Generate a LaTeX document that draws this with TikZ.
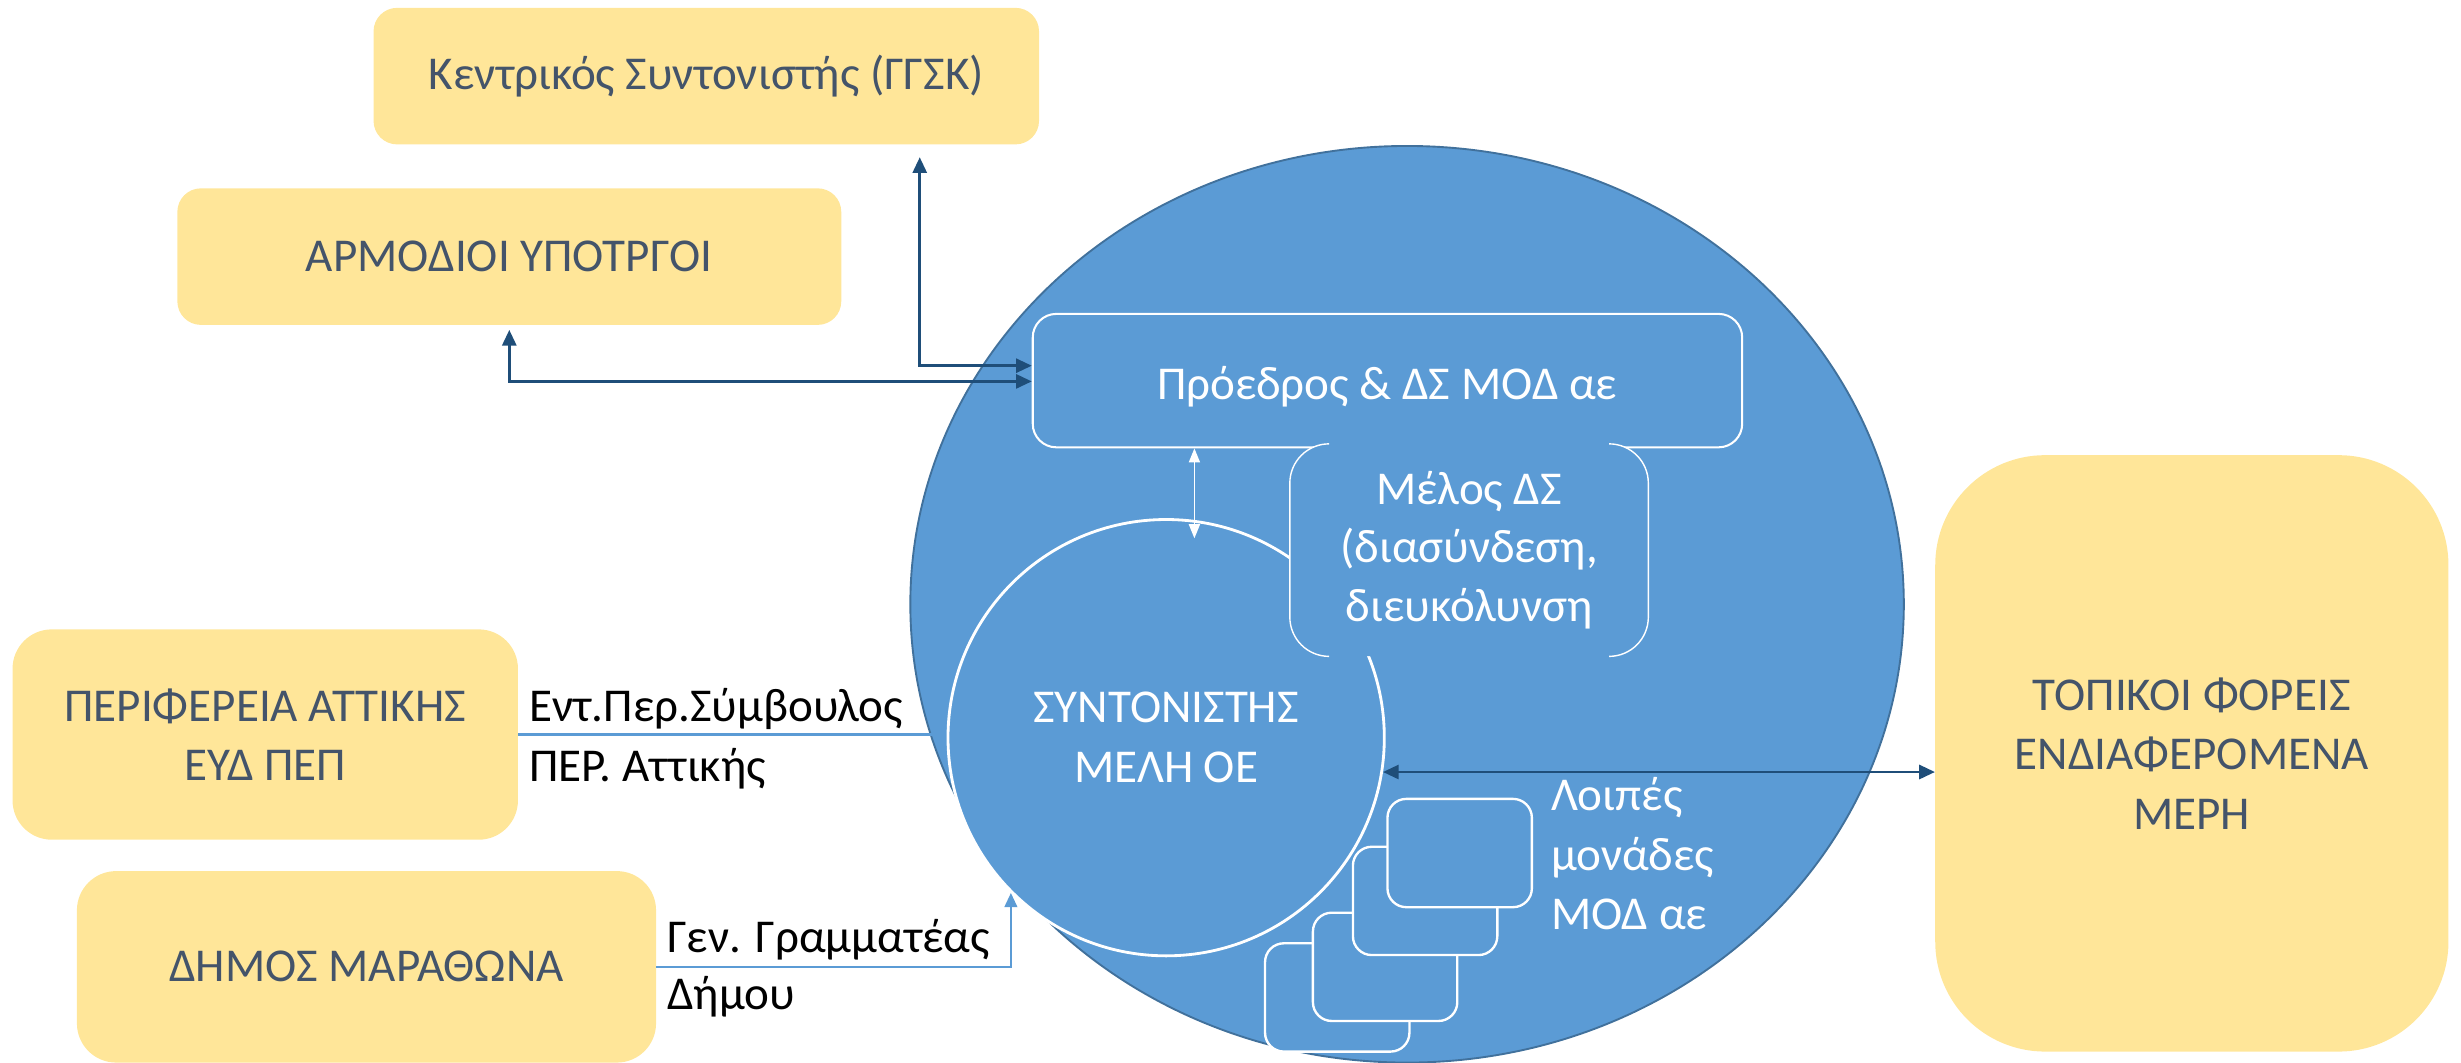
\documentclass[tikz,border=0pt]{standalone}
\usepackage{fontspec}
\setmainfont{Carlito}
\usetikzlibrary{arrows.meta,shapes.geometric}
\definecolor{ylw}{HTML}{FFE699}
\definecolor{slate}{HTML}{44546A}
\definecolor{mblue}{HTML}{5B9BD5}
\definecolor{eblue}{HTML}{41719C}
\definecolor{dblue}{HTML}{1F4E79}
\tikzset{
  ybox/.style={fill=ylw, rounded corners=#1, text=slate, align=center, inner sep=0pt,
    font=\fontsize{30}{38}\selectfont},
  ybox/.default=15pt,
  wbox/.style={fill=mblue, draw=white, line width=1.3pt, rounded corners=#1, text=white,
    align=center, inner sep=0pt, font=\fontsize{30}{38}\selectfont},
  wbox/.default=15pt,
  wtext/.style={text=white, align=left, inner sep=0pt, font=\fontsize{30}{38}\selectfont},
  blabel/.style={text=black, inner sep=0pt, anchor=base west, font=\fontsize{30}{38}\selectfont},
  darr/.style={draw=dblue, line width=1.6pt,
    {Triangle[length=10pt,width=9pt]}-{Triangle[length=10pt,width=9pt]}},
  warr/.style={draw=white, line width=1.1pt,
    {Triangle[length=9pt,width=7pt]}-{Triangle[length=9pt,width=7pt]}},
  larr/.style={draw=mblue, line width=1.5pt, -{Triangle[length=9pt,width=8pt]}},
  lline/.style={draw=mblue, line width=1.5pt},
  stackbox/.style={fill=mblue, draw=white, line width=1.5pt, rounded corners=12pt,
    minimum width=92pt, minimum height=69pt, inner sep=0pt}
}
\begin{document}
\begin{tikzpicture}[x=1pt,y=-1pt]
\useasboundingbox (0,0) rectangle (1568,677);

% yellow boxes
\node[ybox, minimum width=424pt, minimum height=87pt] (ggsk) at (450,48.5) {Κεντρικός Συντονιστής (ΓΓΣΚ)};
\node[ybox, minimum width=423pt, minimum height=87pt] (armod) at (324.5,163.5) {ΑΡΜΟΔΙΟΙ ΥΠΟΤΡΓΟΙ};
\node[ybox=25pt, minimum width=322pt, minimum height=134pt] (peri) at (169,468) {ΠΕΡΙΦΕΡΕΙΑ ΑΤΤΙΚΗΣ\\ΕΥΔ ΠΕΠ};
\node[ybox=25pt, minimum width=369pt, minimum height=122pt] (dimos) at (233.5,616) {ΔΗΜΟΣ ΜΑΡΑΘΩΝΑ};
\node[ybox=70pt, minimum width=327pt, minimum height=380pt] (topikoi) at (1396.5,480) {ΤΟΠΙΚΟΙ ΦΟΡΕΙΣ\\ΕΝΔΙΑΦΕΡΟΜΕΝΑ\\ΜΕΡΗ};

% big ellipse
\node[ellipse, fill=mblue, draw=eblue, line width=1.2pt, minimum width=633pt, minimum height=584pt, inner sep=0pt] (big) at (896.5,385) {};

% Proedros box
\node[wbox, minimum width=452pt, minimum height=85pt, text height=26pt, text depth=2pt] (proedros) at (884,242.5) {Πρόεδρος \& ΔΣ ΜΟΔ αε};

% inner circle
\node[circle, fill=mblue, draw=white, line width=1.8pt, minimum size=278pt, inner sep=0pt,
      text=white, align=center, font=\fontsize{30}{38}\selectfont] (inner) at (743,470) {ΣΥΝΤΟΝΙΣΤΗΣ\\ΜΕΛΗ ΟΕ};

% Melos bracket box
\node[fill=mblue, rounded corners=25pt, minimum width=228pt, minimum height=135pt, inner sep=0pt,
      text=white, align=center, font=\fontsize{30}{37.5}\selectfont] (melos) at (936,350.5) {Μέλος ΔΣ\\(διασύνδεση,\\διευκόλυνση};
\draw[white, line width=0.9pt, rounded corners=25pt] ([xshift=25pt]melos.north west) -- (melos.north west) -- (melos.south west) -- ([xshift=25pt]melos.south west);
\draw[white, line width=0.9pt, rounded corners=25pt] ([xshift=-25pt]melos.north east) -- (melos.north east) -- (melos.south east) -- ([xshift=-25pt]melos.south east);

% stacked unit boxes
\node[stackbox] (s4) at (852,635.5) {};
\node[stackbox] (s3) at (882.5,616) {};
\node[stackbox] (s2) at (908,574) {};
\node[stackbox] (s1) at (930,543.5) {};
\node[wtext, anchor=west] (loipes) at (988,544) {Λοιπές\\μονάδες\\ΜΟΔ αε};

% labels
\node[blabel] (la1) at (337,460) {Εντ.Περ.Σύμβουλος};
\node[blabel] (la2) at (337,498) {ΠΕΡ. Αττικής};
\node[blabel] (lb1) at (425,607) {Γεν. Γραμματέας};
\node[blabel] (lb2) at (425,643) {Δήμου};

% connectors
\draw[darr] ([xshift=136pt,yshift=-8pt]ggsk.south) |- ([yshift=9.5pt]proedros.west);
\draw[darr] ([yshift=-3pt]armod.south) |- ([yshift=-0.5pt]proedros.west);
\draw[darr] (inner.-9.5) -- (inner.-9.5 -| topikoi.west);
\coordinate (wend) at (761,343);
\draw[warr] ([xshift=-123pt]proedros.south) -- (wend);
\coordinate (periend) at (596,468);
\draw[lline] (peri.east) -- (periend);
\draw[larr] (dimos.east) -| (inner.-135);
\end{tikzpicture}
\end{document}
